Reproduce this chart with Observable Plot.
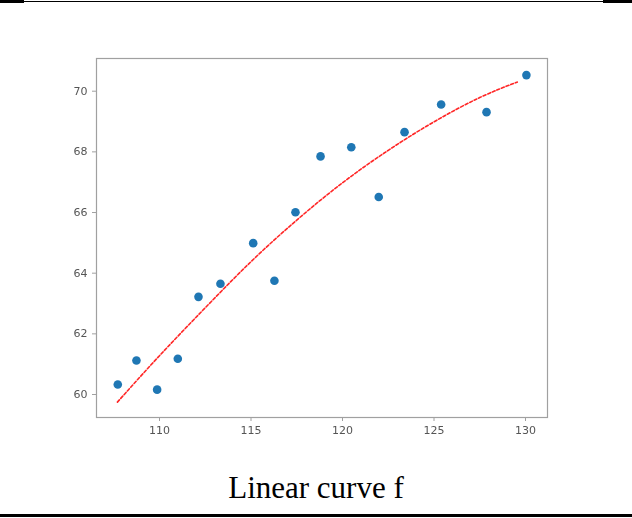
<!DOCTYPE html>
<html>
<head>
<meta charset="utf-8">
<script src="https://cdn.jsdelivr.net/npm/d3@7"></script>
<script src="https://cdn.jsdelivr.net/npm/@observablehq/plot@0.6"></script>
<style>
  html, body { margin: 0; padding: 0; background: #fff; }
  #page { position: relative; width: 632px; height: 518px; overflow: hidden; }
  .rule { position: absolute; background: #000; }
  #caption { position: absolute; left: 0; width: 632px; top: 470px; text-align: center;
    font-family: "Liberation Serif", "Times New Roman", serif; font-size: 31px; color: #000; }
  #chart { position: absolute; left: 0; top: 0; }
  #chart svg { filter: blur(0.35px); }
</style>
</head>
<body>
<div id="page">
  <div class="rule" style="left:0;top:1px;width:632px;height:1px;"></div>
  <div class="rule" style="left:0;top:0;width:24px;height:3px;"></div>
  <div class="rule" style="left:603px;top:0;width:29px;height:3px;"></div>
  <div id="chart"></div>
  <div id="caption">Linear curve f</div>
  <div class="rule" style="left:0;top:514px;width:632px;height:3px;"></div>
</div>
<script>
// scatter data
const xs = [107.72, 108.74, 109.87, 111.0, 112.13, 113.33, 115.12, 116.28, 117.43, 118.80, 120.48, 121.98, 123.39, 125.39, 127.87, 130.05];
const ys = [60.33, 61.12, 60.16, 61.18, 63.22, 63.65, 64.99, 63.75, 66.01, 67.85, 68.15, 66.51, 68.65, 69.56, 69.31, 70.53];
// fitted curve readings
const fitX = [107.7, 110.0, 112.5, 115.0, 117.5, 120.0, 122.5, 125.0, 127.5, 129.55];
const fitY = [59.75, 61.28, 62.86, 64.38, 65.75, 66.98, 68.05, 68.99, 69.79, 70.30];
const xTicks = [110, 115, 120, 125, 130];
const yTicks = [60, 62, 64, 66, 68, 70];

const pts = xs.map((x, i) => ({x, y: ys[i]}));
const fit = fitX.map((x, i) => ({x, y: fitY[i]}));

const chart = Plot.plot({
  width: 632,
  height: 460,
  marginLeft: 96,
  marginRight: 85,
  marginTop: 58,
  marginBottom: 43,
  style: {fontFamily: "DejaVu Sans", fontSize: "11px", background: "transparent"},
  x: {domain: [106.557, 131.202], label: null},
  y: {domain: [59.242, 71.078], label: null},
  marks: [
    Plot.frame({stroke: "#a0a0a0", strokeWidth: 1.2}),
    Plot.axisX({ticks: xTicks, tickSize: 4, tickPadding: 5, stroke: "#a0a0a0", fill: "#555", label: null, tickFormat: d => String(d)}),
    Plot.axisY({ticks: yTicks, tickSize: 4, tickPadding: 5, stroke: "#a0a0a0", fill: "#555", label: null, tickFormat: d => String(d)}),
    Plot.line(fit, {x: "x", y: "y", stroke: "red", strokeWidth: 1.6, strokeDasharray: "3,2", strokeOpacity: 0.85, curve: "natural"}),
    Plot.dot(pts, {x: "x", y: "y", r: 4.3, fill: "#1f77b4", stroke: "none"})
  ]
});
document.getElementById("chart").appendChild(chart);
</script>
</body>
</html>
